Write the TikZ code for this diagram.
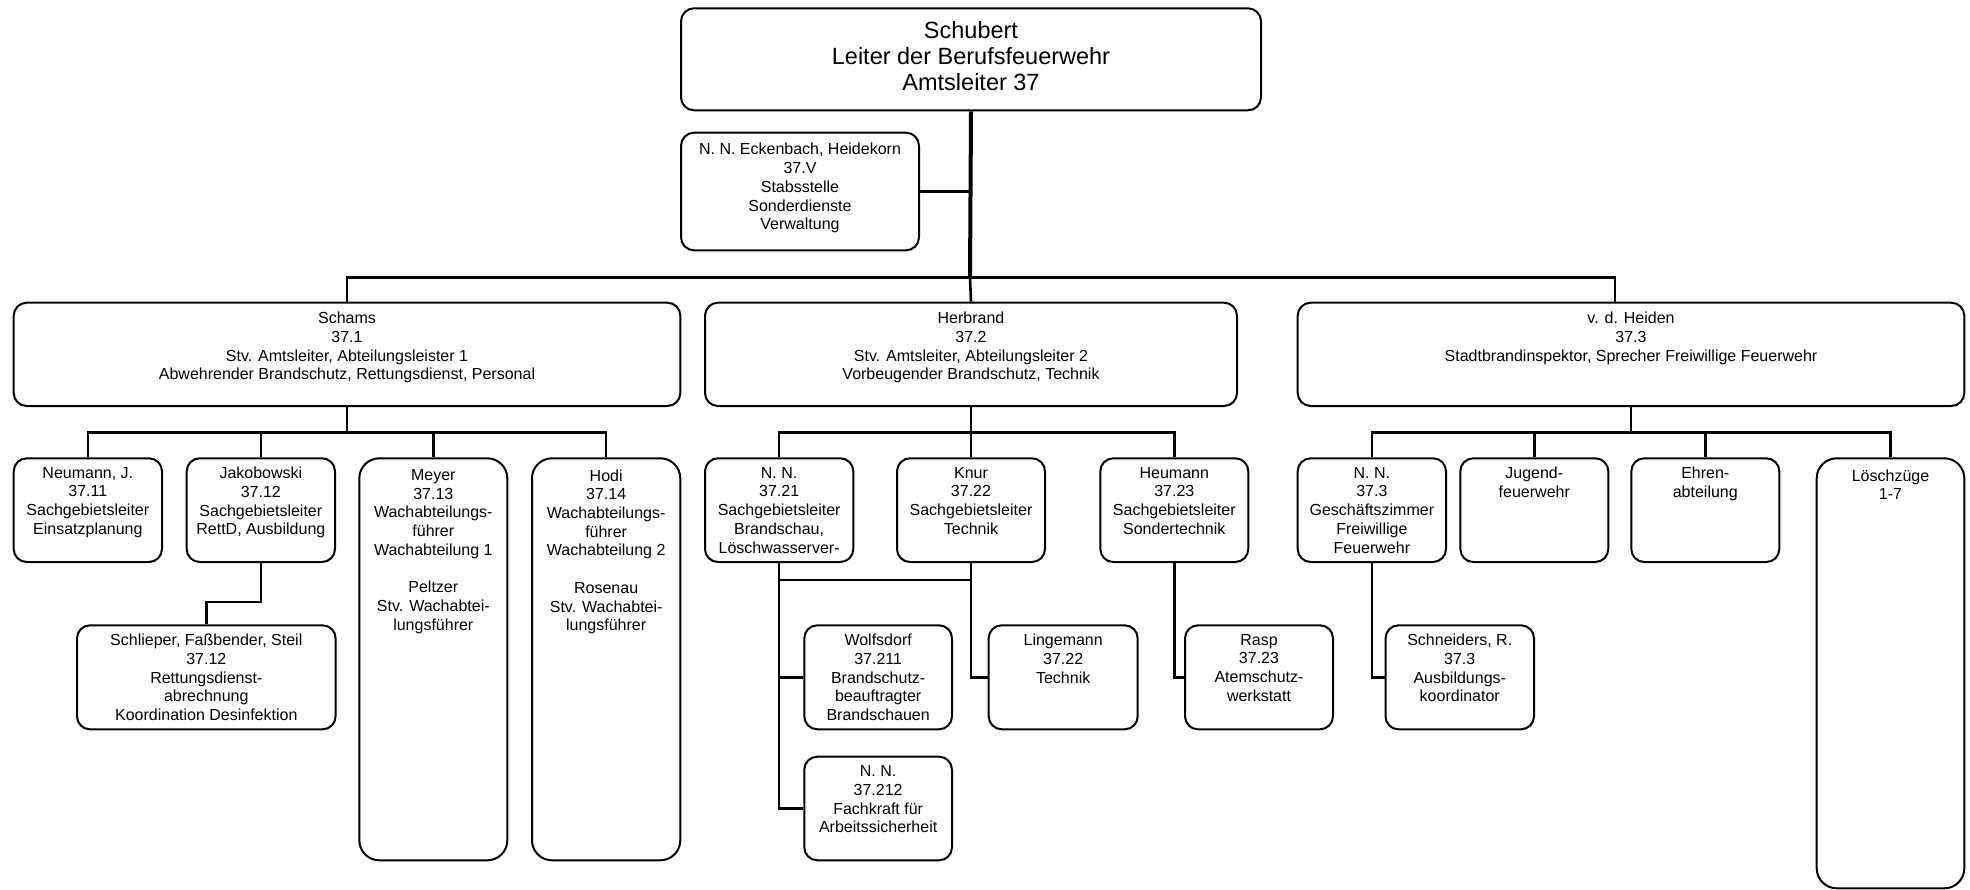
\documentclass[tikz,border=0pt]{standalone}
\usepackage{fontspec}
\setmainfont{Liberation Sans}
\tikzset{
  box/.style={draw, line width=2pt, rounded corners=13pt, inner sep=0pt, anchor=north west},
  tallbox/.style={box, rounded corners=20pt},
  txt/.style={align=center, anchor=north, inner sep=0pt, font=\fontsize{16}{18.7}\selectfont},
  conn/.style={line width=2.6pt},
  trunk/.style={line width=4pt}
}
\begin{document}
\begin{tikzpicture}[x=1pt,y=-1pt]
\useasboundingbox (0,0) rectangle (1970,889);

% Leitung
\node[box, minimum width=580pt, minimum height=102pt] (schubert) at (680,7.3) {};
\node[txt, font=\fontsize{23.5}{26.3}\selectfont] (schubert-t) at ([yshift=-13.5pt]schubert.north) {Schubert\\Leiter der Berufsfeuerwehr\\Amtsleiter 37};
\node[box, minimum width=238pt, minimum height=117.6pt] (stab) at (680,131.7) {};
\node[txt] (stab-t) at ([yshift=-11.5pt]stab.north) {N. N. Eckenbach, Heidekorn\\37.V\\Stabsstelle\\Sonderdienste\\Verwaltung};

% Abteilungen
\node[box, minimum width=666.6pt, minimum height=103.3pt] (schams) at (12.7,301.7) {};
\node[txt] (schams-t) at ([yshift=-10.3pt]schams.north) {Schams\\37.1\\Stv. Amtsleiter, Abteilungsleister 1\\Abwehrender Brandschutz, Rettungsdienst, Personal};
\node[box, minimum width=532pt, minimum height=103.3pt] (herbrand) at (704,301.7) {};
\node[txt] (herbrand-t) at ([yshift=-10.3pt]herbrand.north) {Herbrand\\37.2\\Stv. Amtsleiter, Abteilungsleiter 2\\Vorbeugender Brandschutz, Technik};
\node[box, minimum width=666.6pt, minimum height=103.3pt] (heiden) at (1296.7,301.7) {};
\node[txt] (heiden-t) at ([yshift=-10.3pt]heiden.north) {v. d. Heiden\\37.3\\Stadtbrandinspektor, Sprecher Freiwillige Feuerwehr};

% Sachgebiete 37.1
\node[box, minimum width=148.3pt, minimum height=103.7pt] (neumann) at (12.7,457.3) {};
\node[txt] (neumann-t) at ([yshift=-9.7pt]neumann.north) {Neumann, J.\\37.11\\Sachgebietsleiter\\Einsatzplanung};
\node[box, minimum width=148.3pt, minimum height=103.7pt] (jakob) at (185.7,457.3) {};
\node[txt] (jakob-t) at ([yshift=-9.7pt]jakob.north) {Jakobowski\\37.12\\Sachgebietsleiter\\RettD, Ausbildung};
\node[tallbox, minimum width=148pt, minimum height=402pt] (meyer) at (358.3,457.3) {};
\node[txt] (meyer-t) at ([yshift=-12pt]meyer.north) {Meyer\\37.13\\Wachabteilungs-\\führer\\Wachabteilung 1\\[18.7pt]Peltzer\\Stv. Wachabtei-\\lungsführer};
\node[tallbox, minimum width=148.3pt, minimum height=402pt] (hodi) at (531,457.3) {};
\node[txt] (hodi-t) at ([yshift=-12pt]hodi.north) {Hodi\\37.14\\Wachabteilungs-\\führer\\Wachabteilung 2\\[18.7pt]Rosenau\\Stv. Wachabtei-\\lungsführer};
\node[box, minimum width=258.6pt, minimum height=104pt] (schlieper) at (76,624.3) {};
\node[txt] (schlieper-t) at ([yshift=-9.7pt]schlieper.north) {Schlieper, Faßbender, Steil\\37.12\\Rettungsdienst-\\abrechnung\\Koordination Desinfektion};

% Sachgebiete 37.2
\node[box, minimum width=148.3pt, minimum height=103.7pt] (nn21) at (704,457.3) {};
\node[txt] (nn21-t) at ([yshift=-9.7pt]nn21.north) {N. N.\\37.21\\Sachgebietsleiter\\Brandschau,\\Löschwasserver-};
\node[box, minimum width=148pt, minimum height=103.7pt] (knur) at (896,457.3) {};
\node[txt] (knur-t) at ([yshift=-9.7pt]knur.north) {Knur\\37.22\\Sachgebietsleiter\\Technik};
\node[box, minimum width=148pt, minimum height=103.7pt] (heumann) at (1099.3,457.3) {};
\node[txt] (heumann-t) at ([yshift=-9.7pt]heumann.north) {Heumann\\37.23\\Sachgebietsleiter\\Sondertechnik};
\node[box, minimum width=147.7pt, minimum height=104pt] (wolfsdorf) at (803.3,624.3) {};
\node[txt] (wolfsdorf-t) at ([yshift=-9.7pt]wolfsdorf.north) {Wolfsdorf\\37.211\\Brandschutz-\\beauftragter\\Brandschauen};
\node[box, minimum width=147.7pt, minimum height=103.6pt] (nn212) at (803.3,755.7) {};
\node[txt] (nn212-t) at ([yshift=-9.7pt]nn212.north) {N. N.\\37.212\\Fachkraft für\\Arbeitssicherheit};
\node[box, minimum width=149pt, minimum height=104pt] (lingemann) at (987.7,624.3) {};
\node[txt] (lingemann-t) at ([yshift=-9.7pt]lingemann.north) {Lingemann\\37.22\\Technik};
\node[box, minimum width=148pt, minimum height=104pt] (rasp) at (1184,624.3) {};
\node[txt] (rasp-t) at ([yshift=-9.7pt]rasp.north) {Rasp\\37.23\\Atemschutz-\\werkstatt};

% Sachgebiete 37.3
\node[box, minimum width=148.3pt, minimum height=103.7pt] (nn3) at (1296.7,457.3) {};
\node[txt] (nn3-t) at ([yshift=-9.7pt]nn3.north) {N. N.\\37.3\\Geschäftszimmer\\Freiwillige\\Feuerwehr};
\node[box, minimum width=148pt, minimum height=103.7pt] (jugend) at (1459.3,457.3) {};
\node[txt] (jugend-t) at ([yshift=-9.7pt]jugend.north) {Jugend-\\feuerwehr};
\node[box, minimum width=148pt, minimum height=103.7pt] (ehren) at (1630.3,457.3) {};
\node[txt] (ehren-t) at ([yshift=-9.7pt]ehren.north) {Ehren-\\abteilung};
\node[tallbox, minimum width=147.6pt, minimum height=430pt] (loesch) at (1815.7,457.3) {};
\node[txt] (loesch-t) at ([yshift=-12pt]loesch.north) {Löschzüge\\1-7};
\node[box, minimum width=148.5pt, minimum height=104pt] (schneiders) at (1384.5,624.3) {};
\node[txt] (schneiders-t) at ([yshift=-9.7pt]schneiders.north) {Schneiders, R.\\37.3\\Ausbildungs-\\koordinator};

% Linien oben
\coordinate (bus) at (970,277.7);
\coordinate (bus1) at (0,432.3);
\draw[trunk] (schubert.south) -- (bus);
\draw[conn] (stab.east) -- (stab.east -| bus);
\draw[conn] (schams.north) |- (bus) -| ([xshift=-16pt]heiden.north);
\draw[conn] (bus) -- (herbrand.north);

% Linien 37.1
\draw[conn] (schams.south) -- (schams.south |- bus1);
\draw[conn] (neumann.north) -- (neumann.north |- bus1) -- (hodi.north |- bus1) -- (hodi.north);
\foreach \n in {jakob,meyer} \draw[conn] (\n.north) -- (\n.north |- bus1);
\draw[conn] (jakob.south) -- ++(0,39) -| (schlieper.north);

% Linien 37.2
\draw[conn] (herbrand.south) -- (knur.north);
\draw[conn] (nn21.north) -- (nn21.north |- bus1) -- (heumann.north |- bus1) -- (heumann.north);
\draw[conn] (nn21.south) |- (nn212.west);
\draw[conn] (nn21.south |- wolfsdorf.west) -- (wolfsdorf.west);
\draw[conn] (nn21.south |- 0,580) -| (knur.south);
\draw[conn] (knur.south) |- (lingemann.west);
\draw[conn] (heumann.south) |- (rasp.west);

% Linien 37.3
\draw[conn] (heiden.south) -- (heiden.south |- bus1);
\draw[conn] (nn3.north) -- (nn3.north |- bus1) -- (loesch.north |- bus1) -- (loesch.north);
\foreach \n in {jugend,ehren} \draw[conn] (\n.north) -- (\n.north |- bus1);
\draw[conn] (nn3.south) |- (schneiders.west);
\end{tikzpicture}
\end{document}
